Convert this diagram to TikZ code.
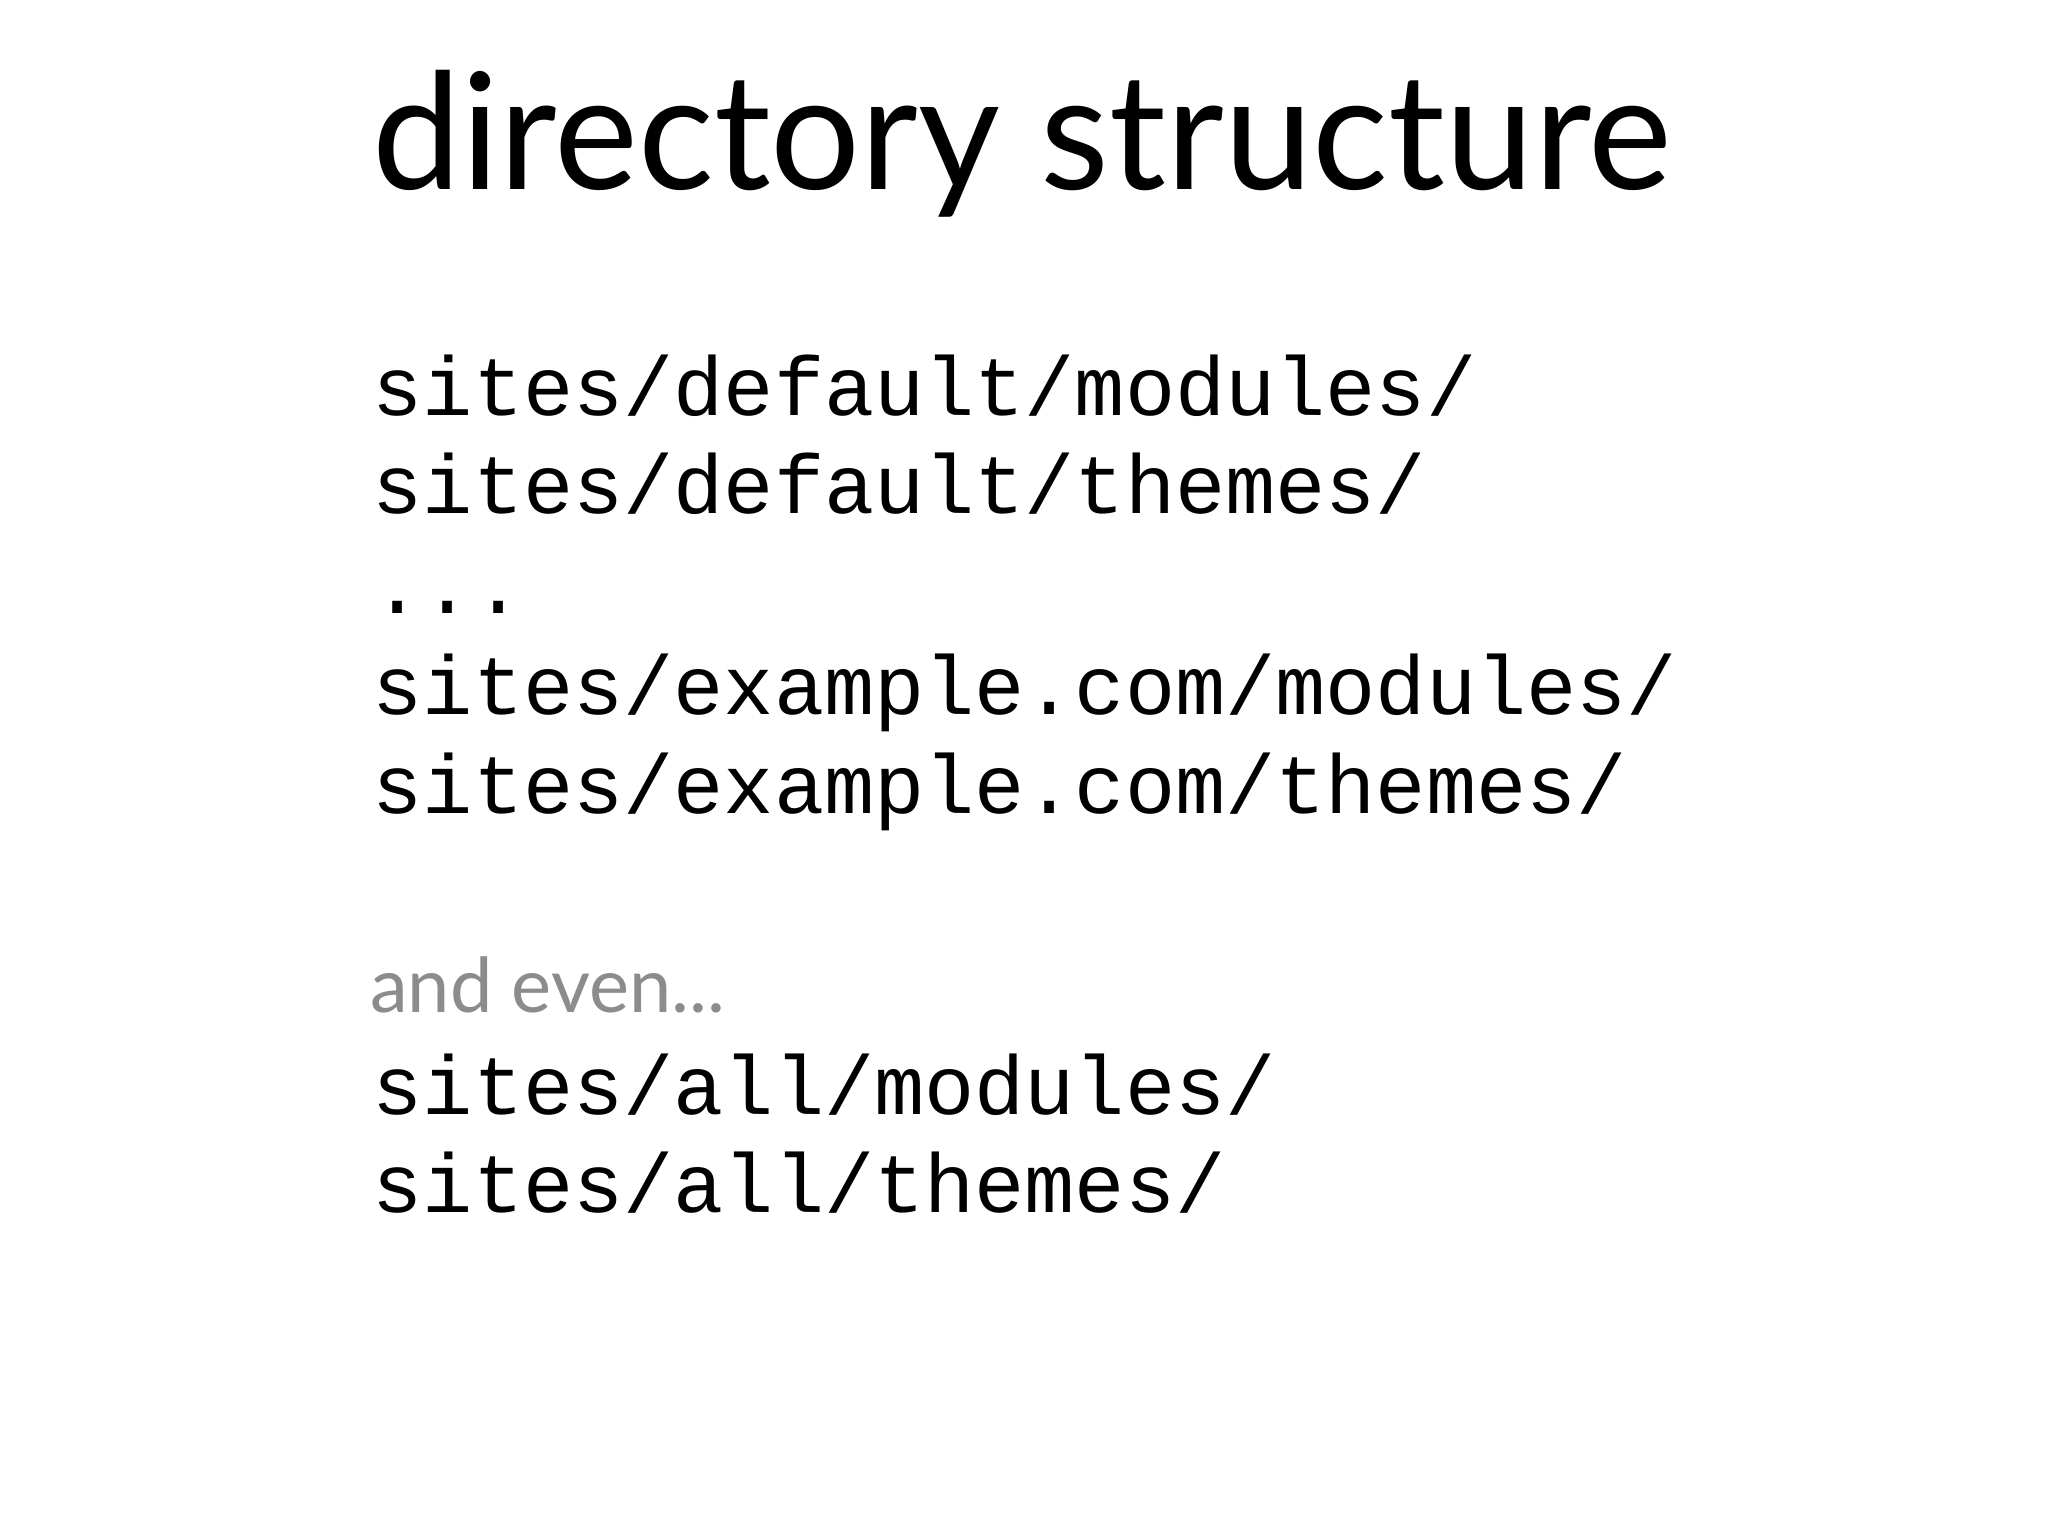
\documentclass[tikz,border=0pt]{standalone}
\usepackage{fontspec}
\setmainfont{Lato}
\setmonofont{Liberation Mono}
\definecolor{greytext}{HTML}{8C8C8C}
\begin{document}
\begin{tikzpicture}[x=0.5pt,y=-0.5pt,
  code/.style={anchor=base west,inner sep=0pt,font=\ttfamily\fontsize{32}{32}\selectfont},
  title/.style={anchor=base west,inner sep=0pt,font=\fontsize{62}{62}\selectfont}]
\useasboundingbox[fill=white] (0,0) rectangle (1568,1176);
\node[title] (t) at (285,145) {\scalebox{0.98}[1]{directory structure}};
\node[code] (l1) at (285,318) {sites/default/modules/};
\node[code] (l2) at (285,393) {sites/default/themes/};
\node[code] (l3) at (285,470) {...};
\node[code] (l4) at (285,547) {sites/example.com/modules/};
\node[code] (l5) at (285,623) {sites/example.com/themes/};
\node[anchor=base west,inner sep=0pt,font=\fontsize{29}{29}\selectfont,text=greytext] (ae) at (283,775) {and even...};
\node[code] (l6) at (285,853) {sites/all/modules/};
\node[code] (l7) at (285,928) {sites/all/themes/};
\end{tikzpicture}
\end{document}
